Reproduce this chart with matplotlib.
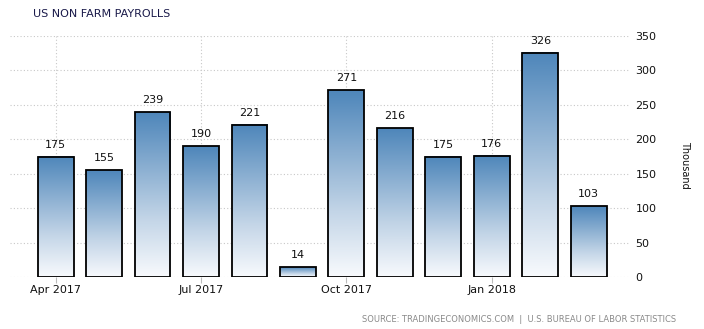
import matplotlib
matplotlib.use("Agg")
import matplotlib.pyplot as plt
import numpy as np
from matplotlib.colors import LinearSegmentedColormap

values = [175, 155, 239, 190, 221, 14, 271, 216, 175, 176, 326, 103]
tick_idx = [0, 3, 6, 9]
tick_labels = ["Apr 2017", "Jul 2017", "Oct 2017", "Jan 2018"]
yticks = [0, 50, 100, 150, 200, 250, 300, 350]

plt.rcParams['font.family'] = ['DejaVu Sans']
fig = plt.figure(figsize=(7.04, 3.29), dpi=100)
ax = fig.add_axes([10/704, 1-277/329, 620/704, (277-36)/329])

cmap = LinearSegmentedColormap.from_list("g", [(0, "#f8fafd"), (0.35, "#c3d5e7"), (1, "#4e86ba")])
grad = np.linspace(0, 1, 256).reshape(-1, 1)
w = 0.74
for i, v in enumerate(values):
    ax.imshow(grad, cmap=cmap, origin='lower', aspect='auto',
              extent=(i - w/2, i + w/2, 0, v), zorder=2, interpolation='bilinear')
    ax.bar(i, v, width=w, facecolor='none', edgecolor='black', linewidth=1.3, zorder=3)
    ax.annotate(str(v), (i, v), xytext=(0, 5), textcoords='offset points',
                ha='center', va='bottom', fontsize=8, color='#111111')

ax.set_xlim(-0.94, 11.85)
ax.set_ylim(0, 350)
ax.set_yticks(yticks)
ax.yaxis.tick_right()
ax.tick_params(axis='y', length=0, pad=4, labelsize=8, labelcolor='#111111')
ax.set_xticks(tick_idx)
ax.set_xticklabels(tick_labels)
ax.tick_params(axis='x', length=4, color='#bbbbbb', labelsize=8, labelcolor='#111111', pad=2)
ax.grid(True, color='#c8c8c8', linestyle=(0, (1, 2)), linewidth=0.8, zorder=0)
ax.set_axisbelow(True)
for s in ax.spines.values():
    s.set_visible(False)

fig.text(685/704, 1-165/329, "Thousand", rotation=270, ha='center', va='center', fontsize=7, color='#111111')
fig.text(33/704, 1-14/329, "US NON FARM PAYROLLS", ha='left', va='center', fontsize=8, color='#1a1a4a')
fig.text(676/704, 1-319/329, "SOURCE: TRADINGECONOMICS.COM  |  U.S. BUREAU OF LABOR STATISTICS",
         ha='right', va='center', fontsize=6, color='#8a8a8a')

fig.savefig("out.png", dpi=100)
